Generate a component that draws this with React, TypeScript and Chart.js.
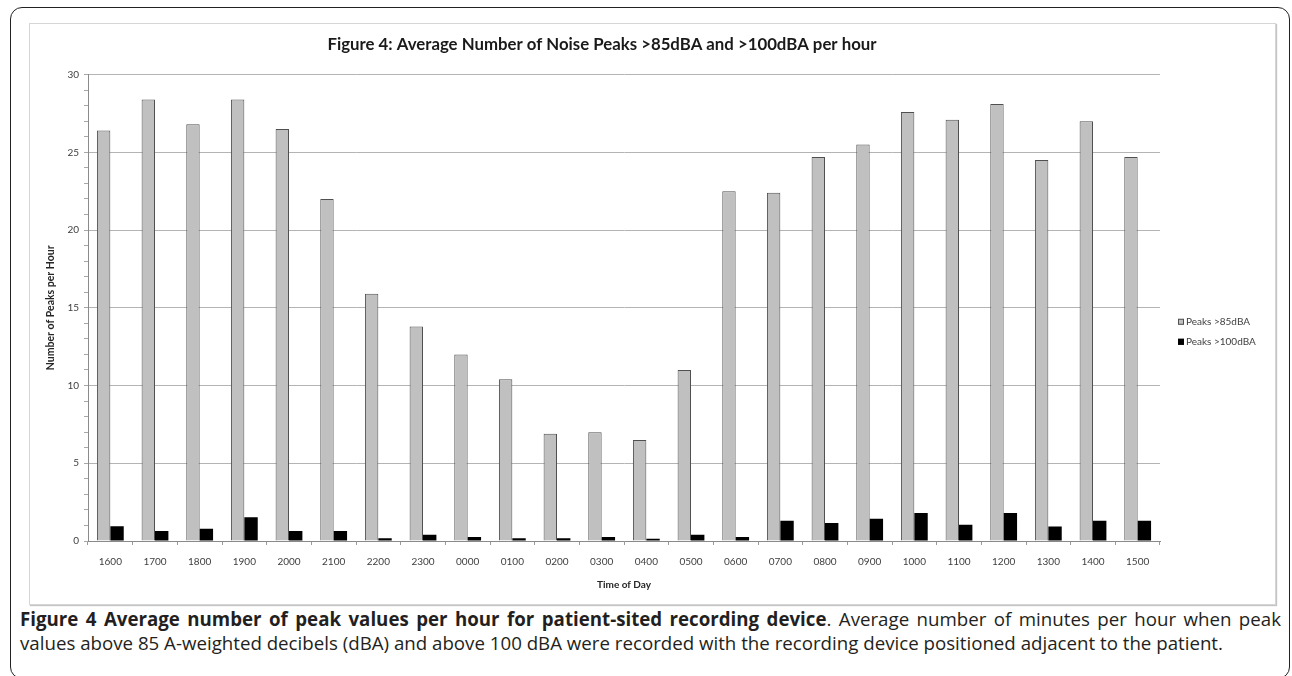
import React, { useEffect, useRef } from 'react';
import { Chart, registerables } from 'chart.js';

Chart.register(...registerables);

const categories = ['1600', '1700', '1800', '1900', '2000', '2100', '2200', '2300', '0000', '0100', '0200', '0300', '0400', '0500', '0600', '0700', '0800', '0900', '1000', '1100', '1200', '1300', '1400', '1500'];
const peaks85 = [26.4, 28.4, 26.8, 28.4, 26.5, 22.0, 15.9, 13.8, 12.0, 10.4, 6.9, 7.0, 6.5, 11.0, 22.5, 22.4, 24.7, 25.5, 27.6, 27.1, 28.1, 24.5, 27.0, 24.7];
const peaks100 = [0.95, 0.65, 0.78, 1.52, 0.65, 0.65, 0.17, 0.4, 0.25, 0.18, 0.18, 0.25, 0.15, 0.4, 0.25, 1.3, 1.15, 1.43, 1.8, 1.05, 1.8, 0.94, 1.3, 1.3];
const seriesLabels = ['Peaks >85dBA', 'Peaks >100dBA'];
const yMin = 0;
const yMax = 30;
const yMajorStep = 5;

const chartTitle = 'Figure 4: Average Number of Noise Peaks >85dBA and >100dBA per hour';
const yTitle = 'Number of Peaks per Hour';
const xTitle = 'Time of Day';

const sideLegend = {
  id: 'sideLegend',
  afterDraw(chart: any) {
    const { ctx, chartArea } = chart;
    const x = chartArea.right + 18;
    const y0 = (chartArea.top + chartArea.bottom) / 2 + 14;
    ctx.save();
    chart.data.datasets.forEach((ds: any, i: number) => {
      const y = y0 + i * 20;
      ctx.fillStyle = ds.backgroundColor;
      ctx.fillRect(x, y - 3, 6, 6);
      ctx.strokeStyle = ds.borderColor;
      ctx.lineWidth = 1;
      ctx.strokeRect(x + 0.5, y - 2.5, 5, 5);
      ctx.fillStyle = '#404040';
      ctx.font = '10px Lato';
      ctx.textBaseline = 'middle';
      ctx.textAlign = 'left';
      ctx.fillText(ds.label, x + 8, y);
    });
    ctx.restore();
  },
};

function BarChart() {
  const ref = useRef<HTMLCanvasElement | null>(null);
  useEffect(() => {
    if (!ref.current) return;
    Chart.defaults.font.family = 'Lato';
    const chart = new Chart(ref.current, {
      type: 'bar',
      data: {
        labels: categories,
        datasets: [
          {
            label: seriesLabels[0],
            data: peaks85,
            backgroundColor: '#c0c0c0',
            borderColor: '#505050',
            borderWidth: 1,
            categoryPercentage: 0.6,
            barPercentage: 1.0,
          },
          {
            label: seriesLabels[1],
            data: peaks100,
            backgroundColor: '#000000',
            borderColor: '#000000',
            borderWidth: 0,
            categoryPercentage: 0.6,
            barPercentage: 1.0,
          },
        ],
      },
      options: {
        animation: false,
        responsive: false,
        maintainAspectRatio: false,
        layout: { padding: { left: 14, right: 115, top: 0, bottom: 0 } },
        plugins: {
          legend: { display: false },
          tooltip: { enabled: false },
          title: {
            display: true,
            text: chartTitle,
            color: '#1a1a1a',
            font: { size: 16.8, weight: 'bold', family: 'Lato', lineHeight: 1.2 },
            padding: { top: 10.4, bottom: 20 },
          },
        },
        scales: {
          x: {
            grid: {
              display: true,
              drawOnChartArea: false,
              drawTicks: true,
              tickLength: 4,
              tickColor: '#9a9a9a',
              offset: true,
            },
            border: { display: true, color: '#8a8a8a', width: 1 },
            ticks: { color: '#404040', font: { size: 10 }, padding: 11, maxRotation: 0, autoSkip: false },
            title: {
              display: true,
              text: xTitle,
              color: '#262626',
              font: { size: 10, weight: 'bold' },
              padding: { top: 0, bottom: 13.5 },
            },
            afterFit: (s: any) => { s.height = 63; },
          },
          y: {
            min: yMin,
            max: yMax,
            grid: {
              color: (c: any) => (c.tick && c.tick.value % yMajorStep === 0 ? '#b4b4b4' : 'rgba(0,0,0,0)'),
              tickColor: '#a8a8a8',
              tickLength: 4,
              drawTicks: true,
            },
            border: { display: true, color: '#8a8a8a', width: 1 },
            ticks: {
              stepSize: 1,
              maxTicksLimit: 40,
              autoSkip: false,
              color: '#404040',
              font: { size: 10 },
              padding: 5,
              callback: (v: any) => (Number(v) % yMajorStep === 0 ? String(v) : ''),
            },
            title: {
              display: true,
              text: yTitle,
              color: '#262626',
              font: { size: 10.5, weight: 'bold' },
              padding: { top: 0.5, bottom: 0 },
            },
            afterFit: (s: any) => { s.width = 44; },
          },
        },
      },
      plugins: [sideLegend],
    });
    return () => chart.destroy();
  }, []);
  return <canvas ref={ref} width={1245} height={580} style={{ position: 'absolute', left: 0, top: 0, width: 1245, height: 580 }} />;
}

export default function App() {
  return (
    <div style={{ position: 'fixed', left: 0, top: 0, width: 1292, height: 676, overflow: 'hidden', background: '#fff' }}>
      <div
        style={{
          position: 'absolute',
          left: 10,
          top: 7,
          width: 1280,
          height: 672,
          border: '1.5px solid #222',
          borderRadius: 12,
          boxSizing: 'border-box',
        }}
      />
      <div
        style={{
          position: 'absolute',
          left: 29,
          top: 23,
          width: 1245,
          height: 580,
          border: '1px solid #d6d6d6',
          boxShadow: '1px 1px 1px #c4c4c4',
        }}
      >
        <BarChart />
      </div>
      <div
        style={{
          position: 'absolute',
          left: 20,
          top: 607,
          width: 1261,
          fontFamily: '"Open Sans", sans-serif',
          fontSize: 18.7,
          lineHeight: '24px',
          color: '#231f20',
        }}
      >
        <div style={{ textAlign: 'justify', textAlignLast: 'justify', whiteSpace: 'nowrap' as any }}>
          <b>Figure 4 Average number of peak values per hour for patient-sited recording device</b>. Average number of minutes per hour when peak
        </div>
        <div>values above 85 A-weighted decibels (dBA) and above 100 dBA were recorded with the recording device positioned adjacent to the patient.</div>
      </div>
    </div>
  );
}
